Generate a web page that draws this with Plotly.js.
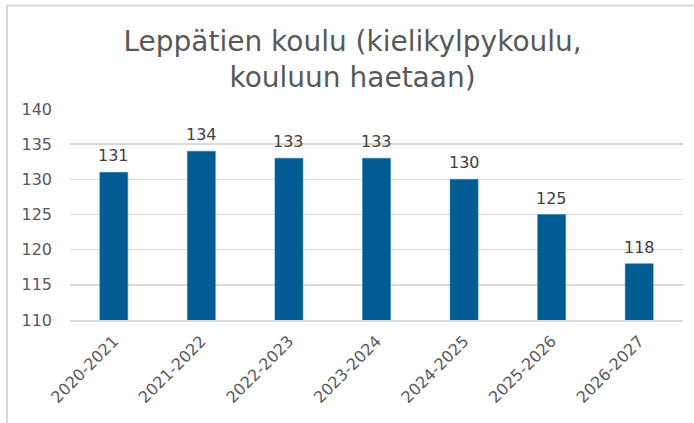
<!DOCTYPE html>
<html><head><meta charset="utf-8">
<script src="https://cdn.plot.ly/plotly-3.0.1.min.js"></script>
<style>html,body{margin:0;padding:0;background:#fff;}#chart{width:694px;height:423px;}</style>
</head><body><div id="chart"></div>
<script>
const years = ["2020-2021","2021-2022","2022-2023","2023-2024","2024-2025","2025-2026","2026-2027"];
const pupils = [131,134,133,133,130,125,118];
const titleText = "Leppätien koulu (kielikylpykoulu,<br>kouluun haetaan)";
const yTicks = [110,115,120,125,130,135,140];

const font = "DejaVu Sans, Verdana, sans-serif";
const labels = years.map((yr, i) => ({
  x: yr, y: pupils[i], xref: "x", yref: "y",
  text: String(pupils[i]), showarrow: false,
  yanchor: "bottom", yshift: 5,
  font: {family: font, size: 16, color: "#404040"}
}));
Plotly.newPlot("chart", [{
  type: "bar",
  x: years,
  y: pupils,
  marker: {color: "#005C92", line: {color: "#2F7FB0", width: 0.5}},
  hoverinfo: "none"
}], {
  width: 694, height: 423,
  margin: {l: 70, r: 11, t: 109, b: 103},
  paper_bgcolor: "#fff", plot_bgcolor: "#fff",
  bargap: 0.68,
  annotations: labels,
  title: {text: titleText, font: {family: font, size: 28, color: "#595959"}, x: 0.508, xanchor: "center", xref: "container", yref: "container", y: 0.88, yanchor: "middle"},
  xaxis: {tickangle: -45, tickfont: {family: font, size: 16, color: "#595959"}, showline: true, linecolor: "#D9D9D9", linewidth: 1.5, ticks: "", ticklabelstandoff: 4, fixedrange: true},
  yaxis: {range: [110, 140], tickvals: yTicks, tickfont: {family: font, size: 16, color: "#595959"}, gridcolor: "#D9D9D9", gridwidth: 1.5, zeroline: false, ticks: "", ticklabelstandoff: 17, fixedrange: true},
  shapes: [{type: "rect", xref: "paper", yref: "paper", x0: -0.1028, x1: 1.1, y0: -1, y1: 1.49, line: {color: "#D9D9D9", width: 2}, fillcolor: "rgba(0,0,0,0)"}],
  showlegend: false
}, {displayModeBar: false, staticPlot: true});
</script></body></html>
